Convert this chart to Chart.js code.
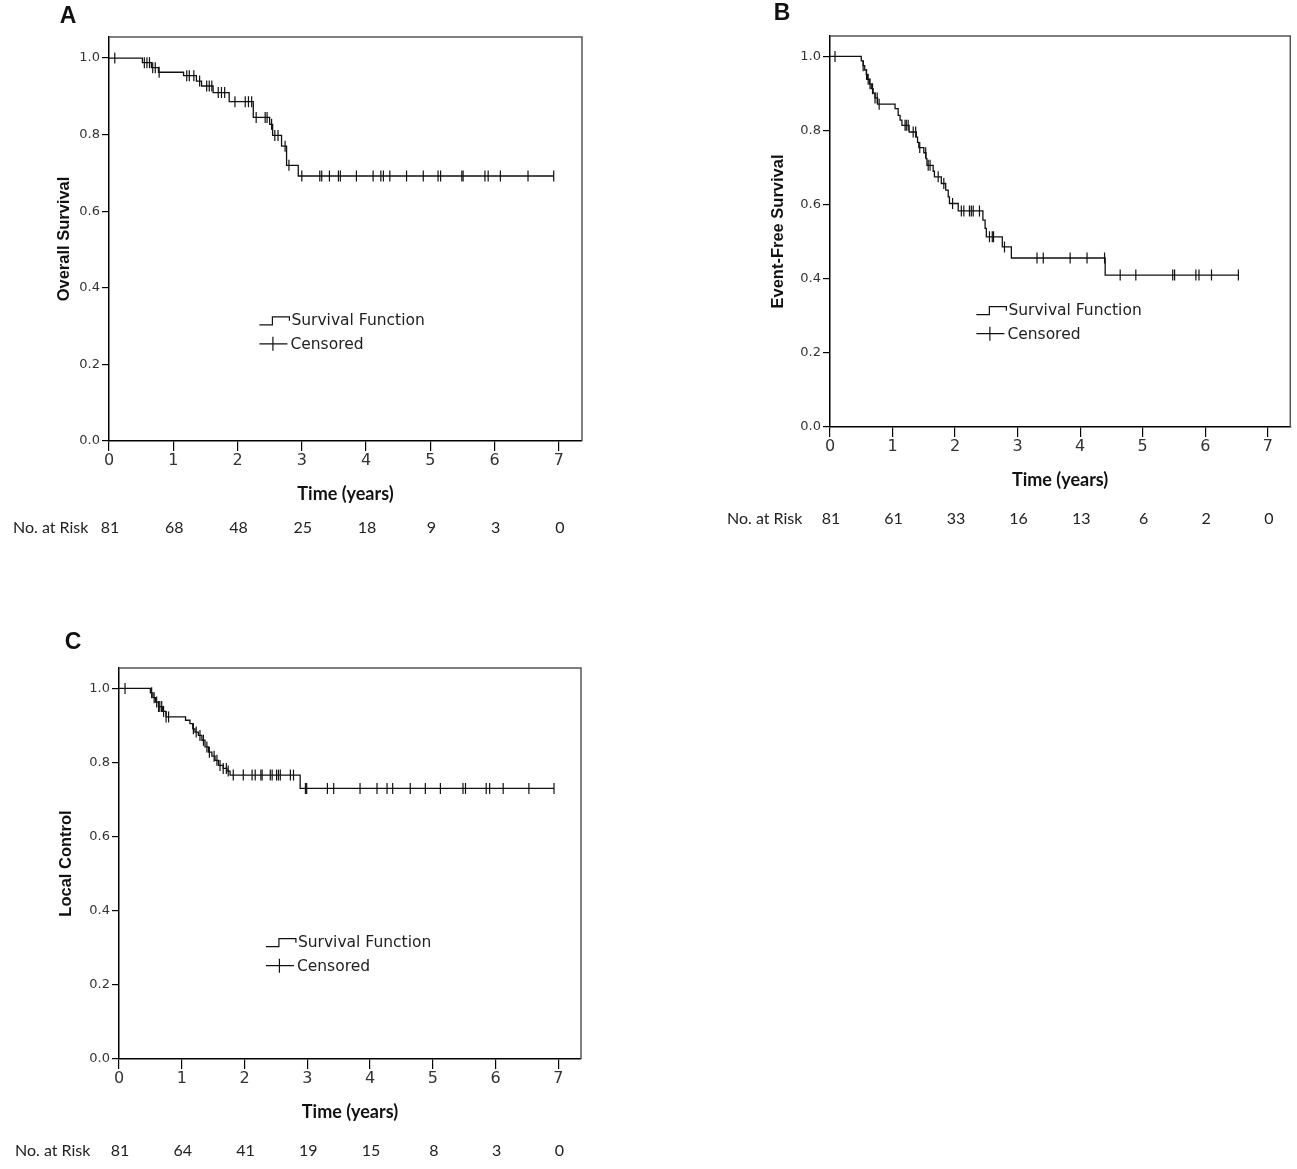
<!DOCTYPE html>
<html>
<head>
<meta charset="utf-8">
<script src="https://cdn.jsdelivr.net/npm/chart.js@4.4.1/dist/chart.umd.min.js"></script>
<style>
  html, body { margin: 0; padding: 0; background: #fff; }
  body { width: 1297px; height: 1169px; position: relative; overflow: hidden; }
  .panel { position: absolute; }
  .panel canvas { display: block; }
</style>
</head>
<body>
<div class="panel" style="left:0px;top:0px;"><canvas id="chartA" width="620" height="560"></canvas></div>
<div class="panel" style="left:700px;top:0px;"><canvas id="chartB" width="597" height="560"></canvas></div>
<div class="panel" style="left:0px;top:600px;"><canvas id="chartC" width="620" height="569"></canvas></div>
<script>
// shared axes
var xTicks = [0, 1, 2, 3, 4, 5, 6, 7];
var yTicks = [0, 0.2, 0.4, 0.6, 0.8, 1.0];
var riskTimes = [0, 1, 2, 3, 4, 5, 6, 7];

// A - overall survival (step times / survival after the step)
var osTimes = [0, 0.52, 0.66, 0.77, 1.16, 1.36, 1.44, 1.62, 1.87, 2.245, 2.50, 2.546, 2.685, 2.763, 2.945];
var osSurv  = [1.0, 0.988, 0.975, 0.963, 0.954, 0.940, 0.927, 0.910, 0.886, 0.845, 0.827, 0.798, 0.770, 0.720, 0.692];
var osCensor = [0.09, 0.55, 0.59, 0.63, 0.68, 0.72, 0.78, 1.21, 1.25, 1.32, 1.41, 1.52, 1.56, 1.60, 1.70, 1.75, 1.80,
  1.96, 2.12, 2.17, 2.22, 2.29, 2.43, 2.46, 2.53, 2.58, 2.63, 2.74, 2.80, 3.00, 3.28, 3.31, 3.43, 3.57, 3.60, 3.85,
  4.11, 4.23, 4.27, 4.37, 4.63, 4.89, 5.12, 5.16, 5.49, 5.51, 5.85, 5.90, 6.09, 6.52, 6.92];
var osRisk = [81, 68, 48, 25, 18, 9, 3, 0];

// B - event-free survival
var efsTimes = [0, 0.50, 0.53, 0.555, 0.58, 0.60, 0.63, 0.66, 0.69, 0.72, 0.76, 1.04, 1.09, 1.12, 1.15, 1.265, 1.38,
  1.40, 1.42, 1.50, 1.535, 1.55, 1.65, 1.67, 1.78, 1.85, 1.89, 1.91, 2.05, 2.445, 2.48, 2.50, 2.755, 2.90, 4.40];
var efsSurv  = [1.0, 0.988, 0.975, 0.963, 0.951, 0.938, 0.926, 0.913, 0.901, 0.888, 0.871, 0.859, 0.841, 0.828, 0.814,
  0.796, 0.782, 0.768, 0.754, 0.740, 0.724, 0.706, 0.690, 0.675, 0.657, 0.639, 0.621, 0.603, 0.583, 0.558, 0.536,
  0.513, 0.486, 0.456, 0.410];
var efsCensor = [0.08, 0.53, 0.585, 0.61, 0.64, 0.68, 0.72, 0.755, 0.786, 1.20, 1.22, 1.25, 1.33, 1.37, 1.435, 1.53,
  1.57, 1.60, 1.73, 1.82, 1.96, 2.10, 2.14, 2.23, 2.26, 2.29, 2.39, 2.55, 2.595, 2.615, 2.79, 3.31, 3.41, 3.84, 4.11,
  4.39, 4.64, 4.89, 5.48, 5.51, 5.85, 5.90, 6.10, 6.53];
var efsRisk = [81, 61, 33, 16, 13, 6, 2, 0];

// C - local control
var lcTimes = [0, 0.50, 0.54, 0.58, 0.63, 0.69, 0.75, 1.06, 1.13, 1.175, 1.21, 1.265, 1.32, 1.37, 1.425, 1.48, 1.53,
  1.585, 1.66, 1.72, 1.77, 2.886];
var lcSurv  = [1.0, 0.988, 0.975, 0.963, 0.951, 0.938, 0.923, 0.914, 0.905, 0.891, 0.882, 0.873, 0.860, 0.842, 0.828,
  0.817, 0.806, 0.792, 0.784, 0.777, 0.766, 0.730];
var lcCensor = [0.096, 0.52, 0.56, 0.60, 0.63, 0.65, 0.68, 0.71, 0.75, 0.79, 1.185, 1.23, 1.29, 1.345, 1.40, 1.44,
  1.515, 1.56, 1.61, 1.66, 1.71, 1.74, 1.82, 1.98, 2.12, 2.17, 2.26, 2.28, 2.41, 2.44, 2.51, 2.54, 2.57, 2.73, 2.78,
  2.97, 2.99, 3.32, 3.42, 3.84, 4.11, 4.27, 4.36, 4.64, 4.88, 5.12, 5.48, 5.52, 5.85, 5.905, 6.12, 6.53, 6.93];
var lcRisk = [81, 64, 41, 19, 15, 8, 3, 0];

function stepPoints(times, surv, endTime) {
  var pts = times.map(function (t, i) { return { x: t, y: surv[i] }; });
  pts.push({ x: endTime, y: surv[surv.length - 1] });
  return pts;
}

function survAt(times, surv, t) {
  var s = surv[0];
  for (var i = 0; i < times.length; i++) {
    if (times[i] <= t) s = surv[i];
  }
  return s;
}

// frame, titles, legend and risk table
var kmExtras = {
  id: 'kmExtras',
  afterDraw: function (chart, args, o) {
    var ctx = chart.ctx, a = chart.chartArea, xs = chart.scales.x;
    ctx.save();

    // top/right border of the plot box
    ctx.strokeStyle = '#555';
    ctx.lineWidth = 1.5;
    ctx.beginPath();
    ctx.moveTo(a.left, a.top);
    ctx.lineTo(a.right, a.top);
    ctx.lineTo(a.right, a.bottom);
    ctx.stroke();

    ctx.fillStyle = '#111';
    // panel letter
    ctx.font = 'bold 23px "Liberation Sans", Arial, sans-serif';
    ctx.textAlign = 'center';
    ctx.textBaseline = 'middle';
    ctx.fillText(o.letter, o.letterX, o.letterY);

    // y title
    ctx.save();
    ctx.translate(o.yTitleX, (a.top + a.bottom) / 2);
    ctx.rotate(-Math.PI / 2);
    ctx.font = 'bold 16.5px "Liberation Sans", Arial, sans-serif';
    ctx.fillText(o.yTitle, 0, 0);
    ctx.restore();

    // x title
    ctx.font = 'bold 18px Lato, sans-serif';
    ctx.fillText('Time (years)', (a.left + a.right) / 2, a.bottom + 53);

    // number at risk
    ctx.font = '16px Lato, sans-serif';
    ctx.fillStyle = '#222';
    ctx.textAlign = 'left';
    ctx.fillText('No. at Risk', o.riskLabelX, o.riskY);
    ctx.textAlign = 'center';
    o.risk.forEach(function (n, i) {
      ctx.fillText(String(n), xs.getPixelForValue(riskTimes[i]) + 1, o.riskY);
    });

    // legend
    var lx = a.left + 0.318 * (a.right - a.left);
    var ly = a.top + 0.70 * (a.bottom - a.top);
    ctx.strokeStyle = '#111';
    ctx.lineWidth = 1.2;
    ctx.beginPath();
    ctx.moveTo(lx, ly + 5);
    ctx.lineTo(lx + 13, ly + 5);
    ctx.lineTo(lx + 13, ly - 3);
    ctx.lineTo(lx + 30, ly - 3);
    ctx.lineTo(lx + 30, ly + 1);
    ctx.moveTo(lx, ly + 24);
    ctx.lineTo(lx + 28, ly + 24);
    ctx.moveTo(lx + 13.5, ly + 17);
    ctx.lineTo(lx + 13.5, ly + 31);
    ctx.stroke();
    ctx.fillStyle = '#222';
    ctx.font = '15.5px "DejaVu Sans", sans-serif';
    ctx.textAlign = 'left';
    ctx.fillText('Survival Function', lx + 32, ly + 1);
    ctx.fillText('Censored', lx + 31, ly + 25);

    ctx.restore();
  }
};

function makeChart(id, g, times, surv, censor, risk, extras) {
  var endTime = Math.max.apply(null, censor);
  var censorPts = censor.map(function (t) { return { x: t, y: survAt(times, surv, t) }; });
  extras.risk = risk;
  var canvas = document.getElementById(id);
  return new Chart(canvas.getContext('2d'), {
    type: 'line',
    data: {
      datasets: [{
        data: stepPoints(times, surv, endTime),
        stepped: true,
        borderColor: '#111',
        borderWidth: 1.3,
        pointRadius: 0,
        fill: false
      }, {
        data: censorPts,
        showLine: false,
        pointStyle: 'line',
        rotation: 90,
        pointRadius: 5.5,
        pointBorderWidth: 1.2,
        borderColor: '#111',
        pointBorderColor: '#111'
      }]
    },
    plugins: [kmExtras],
    options: {
      responsive: false,
      animation: false,
      events: [],
      layout: { padding: { left: 0, top: g.padTop, right: g.padRight, bottom: 0 } },
      plugins: {
        legend: { display: false },
        tooltip: { enabled: false },
        kmExtras: extras
      },
      scales: {
        x: {
          type: 'linear',
          min: 0,
          max: 7.36,
          afterBuildTicks: function (s) { s.ticks = xTicks.map(function (v) { return { value: v }; }); },
          afterFit: function (s) { s.height = g.xHeight; },
          ticks: {
            color: '#333',
            padding: 0,
            font: { family: '"DejaVu Sans", sans-serif', size: 16 }
          },
          grid: { drawOnChartArea: false, drawTicks: true, tickLength: 10, color: '#000', lineWidth: 1.2 },
          border: { display: true, color: '#000', width: 1.5 }
        },
        y: {
          min: 0,
          max: 1.055,
          afterBuildTicks: function (s) { s.ticks = yTicks.map(function (v) { return { value: v }; }); },
          afterFit: function (s) { s.width = g.yWidth; },
          ticks: {
            color: '#333',
            padding: 2,
            font: { family: '"DejaVu Sans", sans-serif', size: 13 },
            callback: function (v) { return Number(v).toFixed(1); }
          },
          grid: { drawOnChartArea: false, drawTicks: true, tickLength: 7, color: '#000', lineWidth: 1.2 },
          border: { display: true, color: '#000', width: 1.5 }
        }
      }
    }
  });
}

makeChart('chartA', { yWidth: 109, padTop: 37, padRight: 38, xHeight: 119 },
  osTimes, osSurv, osCensor, osRisk,
  { letter: 'A', letterX: 68, letterY: 17, yTitle: 'Overall Survival', yTitleX: 64, riskLabelX: 13, riskY: 528 });

makeChart('chartB', { yWidth: 130, padTop: 36, padRight: 6, xHeight: 133 },
  efsTimes, efsSurv, efsCensor, efsRisk,
  { letter: 'B', letterX: 82, letterY: 14, yTitle: 'Event-Free Survival', yTitleX: 78, riskLabelX: 27, riskY: 519 });

makeChart('chartC', { yWidth: 119, padTop: 68, padRight: 39, xHeight: 110 },
  lcTimes, lcSurv, lcCensor, lcRisk,
  { letter: 'C', letterX: 73, letterY: 43, yTitle: 'Local Control', yTitleX: 66, riskLabelX: 15, riskY: 551 });
</script>
</body>
</html>
